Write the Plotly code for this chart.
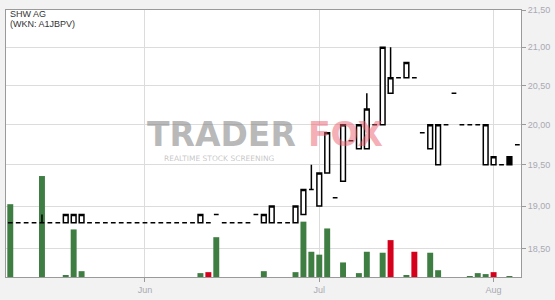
import math
import plotly.graph_objects as go

# ---- data ----
dates = [
    "2021-05-07",
    "2021-05-10", "2021-05-11", "2021-05-12", "2021-05-13", "2021-05-14",
    "2021-05-17", "2021-05-18", "2021-05-19", "2021-05-20", "2021-05-21",
    "2021-05-24", "2021-05-25", "2021-05-26", "2021-05-27", "2021-05-28",
    "2021-05-31", "2021-06-01", "2021-06-02", "2021-06-03", "2021-06-04",
    "2021-06-07", "2021-06-08", "2021-06-09", "2021-06-10", "2021-06-11",
    "2021-06-14", "2021-06-15", "2021-06-16", "2021-06-17", "2021-06-18",
    "2021-06-21", "2021-06-22", "2021-06-23", "2021-06-24", "2021-06-25",
    "2021-06-28", "2021-06-29", "2021-06-30", "2021-07-01", "2021-07-02",
    "2021-07-05", "2021-07-06", "2021-07-07", "2021-07-08", "2021-07-09",
    "2021-07-12", "2021-07-13", "2021-07-14", "2021-07-15", "2021-07-16",
    "2021-07-19", "2021-07-20", "2021-07-21", "2021-07-22", "2021-07-23",
    "2021-07-26", "2021-07-27", "2021-07-28", "2021-07-29", "2021-07-30",
    "2021-08-02", "2021-08-03", "2021-08-04", "2021-08-05",
]
opens = [18.8, 18.8, 18.8, 18.8, 18.8, 18.8, 18.8, 18.8, 18.8, 18.8,
         18.8, 18.8, 18.8, 18.8, 18.8, 18.8, 18.8, 18.8, 18.8, 18.8,
         18.8, 18.8, 18.8, 18.8, 18.8, 18.8, 18.9, 18.8, 18.8, 18.8,
         18.8, 18.9, 18.8, 18.8, 18.8, 18.8, 18.8, 18.9, 19.2, 19.0,
         19.4, 19.1, 19.3, 19.8, 19.7, 19.7, 20.0, 20.0, 20.4, 20.6,
         20.6, 20.6, 19.9, 19.7, 19.5, 20.0, 20.4, 20.0, 20.0, 20.0,
         19.5, 19.5, 19.5, 19.6, 19.75]
highs = [18.8, 18.8, 18.8, 18.8, 18.9, 18.8, 18.8, 18.9, 18.9, 18.9,
         18.8, 18.8, 18.8, 18.8, 18.8, 18.8, 18.8, 18.8, 18.8, 18.8,
         18.8, 18.8, 18.8, 18.8, 18.9, 18.8, 18.9, 18.8, 18.8, 18.8,
         18.8, 18.9, 18.9, 19.0, 18.8, 18.8, 19.0, 19.2, 19.5, 19.4,
         19.9, 19.1, 20.0, 19.8, 20.0, 20.4, 20.0, 21.0, 21.0, 20.6,
         20.8, 20.6, 19.9, 20.0, 20.0, 20.0, 20.4, 20.0, 20.0, 20.0,
         20.0, 19.6, 19.5, 19.6, 19.75]
lows = [18.8, 18.8, 18.8, 18.8, 18.8, 18.8, 18.8, 18.8, 18.8, 18.8,
        18.8, 18.8, 18.8, 18.8, 18.8, 18.8, 18.8, 18.8, 18.8, 18.8,
        18.8, 18.8, 18.8, 18.8, 18.8, 18.8, 18.9, 18.8, 18.8, 18.8,
        18.8, 18.9, 18.8, 18.8, 18.8, 18.8, 18.8, 18.9, 19.2, 19.0,
        19.4, 19.1, 19.3, 19.8, 19.7, 19.7, 20.0, 20.0, 20.4, 20.6,
        20.6, 20.6, 19.9, 19.7, 19.5, 20.0, 20.4, 20.0, 20.0, 20.0,
        19.5, 19.5, 19.5, 19.5, 19.75]
closes = [18.8, 18.8, 18.8, 18.8, 18.8, 18.8, 18.8, 18.9, 18.9, 18.9,
          18.8, 18.8, 18.8, 18.8, 18.8, 18.8, 18.8, 18.8, 18.8, 18.8,
          18.8, 18.8, 18.8, 18.8, 18.9, 18.8, 18.9, 18.8, 18.8, 18.8,
          18.8, 18.9, 18.9, 19.0, 18.8, 18.8, 19.0, 19.2, 19.2, 19.4,
          19.9, 19.1, 20.0, 19.8, 20.0, 20.2, 20.0, 21.0, 20.6, 20.6,
          20.8, 20.6, 19.9, 20.0, 20.0, 20.0, 20.4, 20.0, 20.0, 20.0,
          20.0, 19.6, 19.5, 19.5, 19.75]
volumes = [1500, 0, 0, 0, 2080, 0, 0, 40, 980, 120,
           0, 0, 0, 0, 0, 0, 0, 0, 0, 0,
           0, 0, 0, 0, 80, 100, 820, 0, 0, 0,
           0, 0, 120, 0, 0, 0, 100, 1140, 520, 460,
           1000, 0, 300, 0, 80, 520, 0, 500, 760, 0,
           40, 520, 0, 500, 140, 0, 0, 0, 20, 80,
           60, 100, 0, 20, 0]
price_ticks = [18.5, 19.0, 19.5, 20.0, 20.5, 21.0, 21.5]
price_tick_labels = ["18,50", "19,00", "19,50", "20,00", "20,50", "21,00", "21,50"]
month_ticks = ["2021-06-01", "2021-07-01", "2021-08-02"]
month_labels = ["Jun", "Jul", "Aug"]
title_line1 = "SHW AG"
title_line2 = "(WKN: A1JBPV)"
logo_grey = "TRADER"
logo_red = "FOX"
logo_sub = "REALTIME STOCK SCREENING"

# ---- styling ----
GREEN = "#3e7e42"
RED = "#d5001c"
vol_colors = []
for i, c in enumerate(closes):
    if i == 0 or c >= closes[i - 1]:
        vol_colors.append(GREEN)
    else:
        vol_colors.append(RED)

fig = go.Figure()
fig.add_trace(go.Bar(
    x=dates, y=volumes, marker=dict(color=vol_colors, line=dict(width=0)),
    yaxis="y", hoverinfo="skip", showlegend=False,
))
fig.add_trace(go.Candlestick(
    x=dates, open=opens, high=highs, low=lows, close=closes,
    yaxis="y2", showlegend=False, whiskerwidth=0,
    increasing=dict(line=dict(color="#000000", width=1.5), fillcolor="#ffffff"),
    decreasing=dict(line=dict(color="#000000", width=1.5), fillcolor="#000000"),
))

ymin = math.log10(18.169)
ymax = math.log10(21.5)

tickfont = dict(family="Liberation Sans, Arial, sans-serif", size=9, color="#a9a9b3")
titlefont = dict(family="Liberation Sans, Arial, sans-serif", size=9, color="#333333")


def px_x(px):
    return (px - 5) / 520


def px_y(py):
    return (280 - py) / 275


annotations = [
    dict(text=title_line1, xref="paper", yref="paper", x=px_x(7), y=px_y(2),
         xanchor="left", yanchor="top", showarrow=False, font=titlefont),
    dict(text=title_line2, xref="paper", yref="paper", x=px_x(7), y=px_y(12),
         xanchor="left", yanchor="top", showarrow=False, font=titlefont),
    dict(text="<b>%s</b>" % logo_grey, xref="paper", yref="paper", x=px_x(223), y=px_y(133),
         xanchor="center", yanchor="middle", showarrow=False,
         font=dict(family="DejaVu Sans, sans-serif", size=33, color="rgba(125,125,125,0.55)")),
    dict(text="<b>%s</b>" % logo_red, xref="paper", yref="paper", x=px_x(348), y=px_y(133),
         xanchor="center", yanchor="middle", showarrow=False,
         font=dict(family="DejaVu Sans, sans-serif", size=33, color="rgba(235,95,110,0.5)")),
    dict(text=logo_sub, xref="paper", yref="paper", x=px_x(221), y=px_y(158),
         xanchor="center", yanchor="middle", showarrow=False,
         font=dict(family="DejaVu Sans, sans-serif", size=7.5, color="rgba(150,150,150,0.55)")),
]

fig.update_layout(
    width=555, height=300,
    margin=dict(l=5, r=30, t=5, b=20),
    paper_bgcolor="#f2f2f2",
    plot_bgcolor="#ffffff",
    bargap=0.25,
    boxgap=0.4, boxgroupgap=0,
    xaxis=dict(
        type="category", range=[-0.54, 64.46],
        rangeslider=dict(visible=False),
        tickmode="array", tickvals=month_ticks, ticktext=month_labels,
        showgrid=True, gridcolor="#dcdcdc", gridwidth=1,
        showline=True, linecolor="#9a9a9a", linewidth=1, mirror=True,
        ticks="outside", ticklen=4, tickcolor="#9a9a9a",
        tickfont=tickfont, zeroline=False,
    ),
    yaxis=dict(range=[0, 5500], visible=False, fixedrange=True),
    yaxis2=dict(
        type="log", range=[ymin, ymax], overlaying="y", side="right",
        tickmode="array", tickvals=price_ticks, ticktext=price_tick_labels,
        showgrid=True, gridcolor="#dcdcdc", gridwidth=1,
        showline=True, linecolor="#9a9a9a", linewidth=1, mirror=True,
        ticks="outside", ticklen=4, tickcolor="#9a9a9a",
        tickfont=tickfont, zeroline=False,
    ),
    annotations=annotations,
)

fig.write_html("out.html")
